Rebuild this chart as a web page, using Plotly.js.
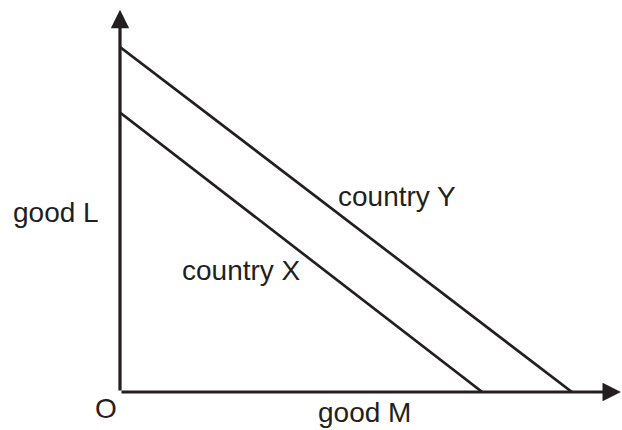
<!DOCTYPE html>
<html>
<head>
<meta charset="utf-8">
<script src="https://cdn.plot.ly/plotly-3.0.1.min.js"></script>
<style>
  html, body { margin: 0; padding: 0; background: #fff; }
</style>
</head>
<body>
<div id="chart" style="width:622px;height:430px;"></div>
<script>
// production possibility lines, intercepts on each axis
const countryX_M = [0, 10.5]
const countryX_L = [8.1, 0]
const countryY_M = [0, 13.1]
const countryY_L = [10.0, 0]

// axis lengths (arrow tips)
const axisEndM = 14.52
const axisEndL = 11.08

const ink = '#231f20'
const font = {family: 'Liberation Sans, Arial, sans-serif', size: 28, color: ink}

const lineX = {
  x: countryX_M,
  y: countryX_L,
  type: 'scatter',
  mode: 'lines',
  line: {color: ink, width: 2.7},
  cliponaxis: false,
  hoverinfo: 'skip'
}

const lineY = {
  x: countryY_M,
  y: countryY_L,
  type: 'scatter',
  mode: 'lines',
  line: {color: ink, width: 2.7},
  cliponaxis: false,
  hoverinfo: 'skip'
}

function axisArrow (tipX, tipY) {
  return {
    x: tipX, y: tipY, xref: 'x', yref: 'y',
    ax: 0, ay: 0, axref: 'x', ayref: 'y',
    showarrow: true, arrowhead: 2, arrowsize: 1.15, arrowwidth: 3.2,
    arrowcolor: ink, text: ''
  }
}

function label (text, x, y) {
  return {
    text: text, x: x, y: y, xref: 'paper', yref: 'paper',
    xanchor: 'center', yanchor: 'middle', showarrow: false, font: font
  }
}

const layout = {
  width: 622,
  height: 430,
  margin: {l: 120, r: 0, t: 0, b: 38},
  paper_bgcolor: '#fff',
  plot_bgcolor: '#fff',
  showlegend: false,
  xaxis: {range: [0, 14.551], showgrid: false, zeroline: false, showticklabels: false, ticks: '', fixedrange: true},
  yaxis: {range: [0, 11.362], showgrid: false, zeroline: false, showticklabels: false, ticks: '', fixedrange: true},
  annotations: [
    axisArrow(axisEndM, 0),
    axisArrow(0, axisEndL),
    label('country Y', 0.552, 0.5),
    label('country X', 0.243, 0.309),
    label('good L', -0.1275, 0.459),
    label('O', -0.028, -0.041),
    label('good M', 0.488, -0.052)
  ]
}

Plotly.newPlot('chart', [lineX, lineY], layout, {staticPlot: true})
</script>
</body>
</html>
